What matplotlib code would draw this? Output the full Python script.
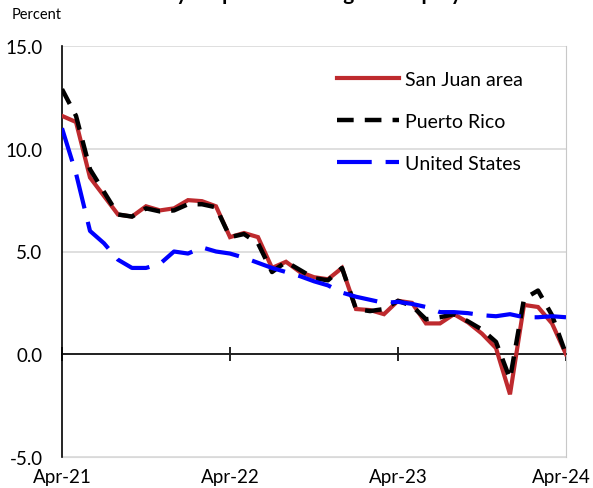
import matplotlib
matplotlib.use("Agg")
import matplotlib.pyplot as plt
from matplotlib.transforms import ScaledTranslation

plt.rcParams["font.family"] = ["Lato", "DejaVu Sans"]
plt.rcParams["lines.scale_dashes"] = False

# monthly, Apr-21 .. Apr-24
months = list(range(37))
san_juan = [11.6, 11.3, 8.6, 7.7, 6.8, 6.7, 7.2, 7.0, 7.1, 7.5, 7.45, 7.2,
            5.7, 5.9, 5.7, 4.2, 4.5, 4.0, 3.75, 3.65, 4.2, 2.2, 2.15, 1.95,
            2.6, 2.5, 1.5, 1.5, 1.95, 1.55, 1.0, 0.3, -1.95, 2.4, 2.3, 1.5, 0.0]
puerto_rico = [12.9, 11.6, 9.0, 7.9, 6.8, 6.7, 7.1, 6.95, 7.0, 7.3, 7.3, 7.15,
               5.7, 5.85, 5.4, 4.0, 4.5, 4.1, 3.7, 3.6, 4.2, 2.2, 2.1, 2.2,
               2.6, 2.35, 1.7, 1.8, 1.95, 1.6, 1.2, 0.6, -1.2, 2.7, 3.1, 1.9, 0.0]
united_states = [11.0, 8.8, 6.0, 5.4, 4.6, 4.2, 4.2, 4.4, 5.0, 4.9, 5.2, 5.0,
                 4.9, 4.7, 4.45, 4.2, 4.0, 3.8, 3.55, 3.35, 3.0, 2.8, 2.65, 2.5,
                 2.55, 2.45, 2.3, 2.05, 2.05, 2.0, 1.9, 1.85, 1.95, 1.8, 1.8, 1.85, 1.8]

tick_pos = [0, 12, 24, 36]
tick_labels = ["Apr-21", "Apr-22", "Apr-23", "Apr-24"]
y_ticks = [-5, 0, 5, 10, 15]

fig = plt.figure(figsize=(5.93, 4.89), dpi=100)
ax = fig.add_axes([62 / 593, 1 - 458 / 489, 504 / 593, 411 / 489])

ax.plot(months, san_juan, color="#BE2A2E", lw=3.0, label="San Juan area", zorder=3,
        solid_joinstyle="miter")
ax.plot(months, puerto_rico, color="black", lw=3.2, dashes=(12, 8),
        dash_capstyle="butt", label="Puerto Rico", zorder=4)
ax.plot(months, united_states, color="#0000FF", lw=3.0, dashes=(25, 10),
        dash_capstyle="butt", label="United States", zorder=5)

ax.set_xlim(0, 36)
ax.set_ylim(-5, 15)
ax.set_yticks(y_ticks)
ax.set_yticklabels([f"{v:.1f}" for v in y_ticks], fontsize=13.5)
ax.tick_params(axis="y", length=0, pad=14)
ax.grid(axis="y", color="#D9D9D9", lw=1.2, zorder=0)

ax.spines["top"].set_visible(False)
ax.spines["right"].set_color("#C8C8C8")
ax.spines["left"].set_color("black")
ax.spines["left"].set_linewidth(1.2)
ax.spines["bottom"].set_position(("data", 0))
ax.spines["bottom"].set_linewidth(1.2)
ax.set_xticks(tick_pos)
ax.tick_params(axis="x", direction="inout", length=10, width=1.2, labelbottom=False)

sec = ax.secondary_xaxis(0.0)
sec.set_xticks(tick_pos)
sec.set_xticklabels(tick_labels, fontsize=13.5)
sec.tick_params(length=0, pad=8)
sec.spines["bottom"].set_color("#D9D9D9")
# nudge the last label left so it stays inside the figure
last = sec.get_xticklabels()[-1]
last.set_transform(last.get_transform() + ScaledTranslation(-5 / 100, 0, fig.dpi_scale_trans))

fig.text(12 / 593, 1 - 15 / 489, "Percent", fontsize=10.5, va="center", ha="left")
fig.text(0.5, 1.0, "Over-the-year percent change in employment", fontsize=15,
         fontweight="bold", ha="center", va="baseline")

ax.legend(loc="upper left", bbox_to_anchor=(0.545, 0.940), frameon=False,
          fontsize=14, handlelength=3.2, handletextpad=0.3, labelspacing=1.3,
          borderpad=0, borderaxespad=0)

fig.savefig("out.png", dpi=100)
